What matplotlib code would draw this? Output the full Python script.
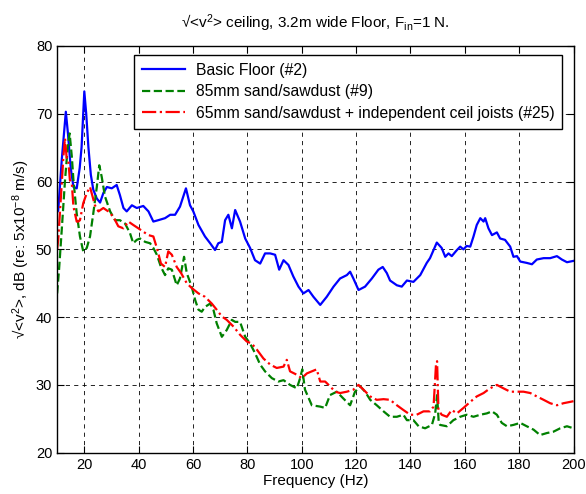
import matplotlib
matplotlib.use('Agg')
import matplotlib.pyplot as plt
import numpy as np

plt.rcParams['font.family'] = ['Liberation Sans', 'DejaVu Sans']
plt.rcParams['mathtext.fontset'] = 'custom'
plt.rcParams['mathtext.rm'] = 'Liberation Sans'
plt.rcParams['mathtext.it'] = 'Liberation Sans'

# Basic Floor (#2)
freq_basic = [10.0, 10.4, 11.7, 13.2, 14.0, 15.0, 16.0, 17.2, 18.3, 19.0, 20.0, 20.7, 21.5, 22.4,
              23.3, 24.6, 25.8, 27.0, 28.3, 30.1, 31.9, 33.1, 34.4, 35.6, 37.5, 39.3, 41.7, 43.6,
              45.4, 47.2, 49.7, 51.6, 53.4, 55.2, 57.4, 58.9, 60.1, 62.0, 64.4, 66.3, 68.1, 69.3,
              70.6, 71.8, 73.0, 74.3, 75.5, 77.3, 79.2, 81.0, 82.8, 84.7, 86.5, 88.4, 90.2, 91.7,
              93.3, 95.1, 96.9, 98.8, 100.6, 102.5, 104.3, 106.8, 109.2, 111.7, 114.1, 116.6,
              117.8, 119.0, 120.9, 123.3, 125.8, 128.2, 129.8, 131.3, 132.5, 135.0, 136.8, 138.7,
              141.1, 143.6, 146.0, 147.2, 149.7, 151.5, 152.8, 154.0, 155.2, 157.1, 158.3, 159.5,
              160.7, 162.0, 163.2, 164.4, 165.7, 166.9, 167.5, 168.7, 170.0, 171.8, 173.0, 174.8,
              176.7, 177.9, 179.2, 180.4, 182.8, 184.7, 186.5, 189.0, 191.4, 193.9, 195.7, 197.6,
              200.0]
db_basic = [55.5, 55.7, 63.2, 70.3, 67.0, 62.0, 59.2, 59.0, 62.0, 65.1, 73.3, 70.0, 65.1, 61.0,
            58.8, 57.5, 56.9, 58.3, 59.2, 59.0, 59.5, 58.0, 56.1, 55.6, 56.5, 56.1, 56.4, 55.6,
            54.1, 54.3, 54.6, 55.1, 55.1, 56.3, 59.0, 56.5, 55.6, 53.6, 51.9, 50.9, 49.9, 50.9,
            51.1, 54.3, 55.1, 53.1, 55.8, 54.1, 51.6, 50.2, 48.4, 47.9, 49.4, 49.4, 49.2, 47.0,
            48.4, 47.7, 46.0, 44.5, 43.5, 44.0, 43.0, 41.8, 43.0, 44.5, 45.7, 46.2,
            46.7, 45.7, 44.0, 44.5, 45.7, 47.0, 47.4, 46.5, 45.4, 44.7, 44.5, 45.4,
            45.2, 46.2, 48.0, 48.7, 51.0, 50.2, 48.9, 49.4, 49.0, 49.9, 50.4, 50.0,
            50.5, 50.4, 51.9, 53.6, 54.6, 54.1, 54.6, 53.1, 52.1, 52.5, 51.6, 51.4,
            50.4, 48.9, 49.0, 48.2, 48.0, 47.8, 48.5, 48.7, 48.7, 49.0, 48.5, 48.1,
            48.3]

# 85mm sand/sawdust (#9)
freq_sand85 = [10.0, 10.7, 11.7, 12.9, 13.9, 14.6, 15.4, 16.0, 17.2, 18.4, 19.6, 20.9, 22.1, 23.3,
               24.6, 25.5, 26.4, 27.6, 29.5, 31.3, 33.1, 35.0, 36.8, 38.0, 39.3, 40.5, 42.4, 44.2,
               45.4, 46.7, 48.2, 49.7, 50.9, 52.2, 54.0, 55.2, 56.7, 57.7, 59.5, 60.8, 62.0, 63.2,
               64.4, 66.3, 67.5, 68.7, 70.6, 72.4, 74.3, 75.5, 77.3, 79.2, 81.0, 82.8, 84.7, 86.5,
               89.0, 91.4, 93.3, 95.7, 98.2, 99.4, 100.2, 101.2, 103.7, 106.8, 108.6, 110.4, 112.9,
               115.3, 117.8, 119.6, 121.5, 123.3, 125.2, 127.6, 130.1, 132.5, 135.0, 137.4, 138.7,
               141.1, 143.0, 145.4, 147.9, 149.1, 149.8, 150.4, 150.9, 153.4, 155.8, 158.3, 160.7,
               163.2, 165.7, 168.1, 170.0, 171.8, 173.6, 175.5, 177.9, 180.4, 182.8, 185.3, 187.7,
               190.2, 192.6, 195.1, 197.6, 200.0]
db_sand85 = [43.5, 47.0, 52.9, 60.2, 65.1, 67.1, 63.7, 60.2, 55.3, 51.9, 49.7, 50.2, 51.9, 55.3,
             59.2, 62.4, 60.7, 57.8, 55.6, 54.3, 54.3, 53.8, 52.4, 50.9, 51.4, 51.6, 51.1, 50.9,
             50.2, 49.2, 47.4, 46.2, 47.2, 47.0, 44.7, 45.7, 48.9, 46.5, 44.5, 42.5, 41.1, 40.8,
             41.5, 42.0, 41.1, 39.1, 37.1, 38.1, 39.6, 39.3, 39.3, 37.1, 36.1, 34.7, 33.0, 32.0,
             31.0, 30.5, 30.7, 30.0, 29.5, 31.0, 32.3, 29.3, 27.0, 26.8, 26.6, 28.5, 29.0,
             28.0, 27.0, 29.0, 29.8, 29.0, 27.8, 27.0, 26.1, 25.3, 25.3, 25.6, 24.8,
             24.8, 23.9, 23.6, 24.1, 25.8, 28.5, 24.5, 24.1, 23.9, 24.8, 25.3, 25.6,
             25.3, 25.6, 25.8, 26.1, 25.6, 24.4, 23.9, 24.1, 24.4, 23.9, 23.4, 22.6,
             22.9, 23.1, 23.6, 23.9, 23.6]

# 65mm sand/sawdust + independent ceil joists (#25)
freq_sand65 = [10.0, 10.4, 11.4, 12.3, 12.9, 13.5, 14.1, 14.7, 15.4, 16.0, 17.2, 17.8, 18.4, 19.6,
               20.9, 22.1, 22.7, 23.9, 25.2, 27.0, 28.8, 30.7, 32.5, 34.4, 36.2, 38.0, 39.9, 41.7,
               43.6, 45.4, 46.7, 48.2, 49.7, 50.9, 52.2, 54.0, 55.6, 57.7, 59.5, 62.0, 64.4, 66.9,
               68.7, 70.6, 72.4, 74.9, 77.3, 79.8, 81.6, 83.5, 85.9, 88.4, 90.8, 93.3, 94.5, 95.7,
               98.2, 100.0, 101.9, 103.7, 105.5, 106.8, 108.6, 110.4, 112.3, 114.1, 116.6, 119.0,
               120.9, 122.7, 125.2, 127.6, 130.1, 132.5, 135.0, 137.4, 139.9, 142.3, 144.8, 147.2,
               148.5, 149.4, 149.8, 150.3, 151.5, 153.4, 155.2, 157.1, 159.5, 162.0, 164.4, 166.9,
               169.3, 171.8, 174.2, 176.7, 179.2, 181.6, 184.1, 186.5, 189.0, 191.4, 193.9, 196.3,
               198.8, 200.0]
db_sand65 = [50.0, 51.4, 57.8, 63.7, 66.4, 63.5, 63.2, 60.2, 59.7, 56.3, 54.1, 54.1, 54.3, 56.8,
             58.3, 59.2, 58.3, 56.5, 55.6, 56.1, 55.6, 54.8, 53.4, 53.1, 54.1, 53.6, 53.1, 52.6,
             52.1, 51.9, 50.2, 47.9, 47.4, 49.7, 49.2, 47.4, 46.5, 45.0, 44.3, 43.5, 43.0, 42.0,
             41.1, 40.1, 39.6, 38.6, 37.4, 36.4, 36.1, 35.2, 33.9, 33.0, 32.5, 32.7, 33.7, 32.0,
             31.5, 31.0, 31.7, 32.0, 32.3, 30.5, 30.5, 29.8, 29.0, 28.8, 29.0, 29.3,
             30.0, 29.3, 28.3, 27.8, 27.9, 27.8, 27.0, 26.3, 25.6, 25.6, 26.1, 26.1,
             26.8, 33.0, 33.5, 26.3, 25.6, 25.3, 26.3, 25.8, 26.6, 27.5, 28.3, 28.8,
             29.5, 30.0, 29.5, 29.0, 29.0, 29.0, 28.8, 28.3, 27.8, 27.3, 27.0, 27.3,
             27.5, 27.6]

labels = ['Basic Floor (#2)', '85mm sand/sawdust (#9)',
          '65mm sand/sawdust + independent ceil joists (#25)']

fig = plt.figure(figsize=(5.86, 4.94), dpi=100)
ax = fig.add_axes([0.0975, 0.0836, 0.8812, 0.8233])

ax.plot(freq_basic, db_basic, color='b', lw=1.6, label=labels[0])
ax.plot(freq_sand85, db_sand85, color=(0, 0.5, 0), lw=1.6, ls='--', label=labels[1])
ax.plot(freq_sand65, db_sand65, color='r', lw=1.6, ls='-.', label=labels[2])

ax.set_xlim(10, 200)
ax.set_ylim(20, 80)
ax.set_xticks(np.arange(20, 201, 20))
ax.set_yticks(np.arange(20, 81, 10))
ax.grid(True, color='k', ls=(0, (5, 5)), lw=0.6)
ax.set_axisbelow(True)
ax.tick_params(direction='in', top=True, right=True, length=5, labelsize=10.5)
for s in ax.spines.values():
    s.set_linewidth(1.0)

ax.set_xlabel('Frequency (Hz)', fontsize=11, labelpad=2)
ax.set_ylabel('√<v$^2$>, dB (re: 5x10$^{-8}$ m/s)', fontsize=11, labelpad=3)
ax.set_title('√<v$^2$> ceiling, 3.2m wide Floor, F$_{\\mathrm{in}}$=1 N.', fontsize=11, pad=13)

leg = ax.legend(loc='upper right', bbox_to_anchor=(0.978, 0.978), borderaxespad=0,
                fancybox=False, edgecolor='k', framealpha=1, fontsize=11.3,
                handlelength=2.7, handletextpad=0.7, labelspacing=0.42, borderpad=0.5)
leg.get_frame().set_linewidth(1.0)

fig.savefig('out.png', dpi=100)
